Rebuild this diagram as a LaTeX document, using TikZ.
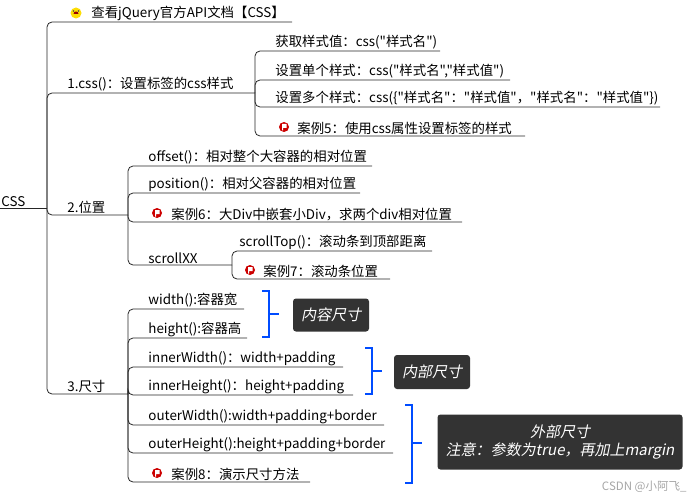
\documentclass[tikz,border=0pt]{standalone}
\usepackage{fontspec}
\setmainfont{Noto Sans CJK SC}[Ligatures=TeXOff]
\newfontfamily\cjkit[FakeSlant=0.2]{Noto Sans CJK SC}
\begin{document}
\begin{tikzpicture}[x=1pt,y=-1pt,
  lab/.style={anchor=south west,inner sep=1.2pt,font=\fontsize{13.4}{15}\selectfont},
  ln/.style={draw=black!85,line width=0.8pt,rounded corners=5pt},
  br/.style={draw=blue!70!cyan,line width=1.6pt},
  dbox/.style={fill=black!80,rounded corners=3pt,text=white,font=\cjkit\fontsize{15}{18}\selectfont,align=center,inner sep=4pt},
  flag/.pic={\fill[red!80!black] (0,0) circle (5);\fill[white] (-1.8,-3)--(2.5,-3)--(2.5,1)--(-0.8,1)--(-0.8,3.5)--(-1.8,3.5)--cycle;}]
\useasboundingbox (0,0) rectangle (693,500);
% root
\node[lab] (root) at (0,208) {CSS};
\draw[ln] (0,208) -- (47,208);
% level 1
\node[lab] (top) at (90,22) {查看jQuery官方API文档【CSS】};
\fill[yellow!80!orange] (76,13) circle (5.5);
\fill[black!70] (73.5,11) circle (0.9) (78.5,11) circle (0.9);
\fill[red!60!black] (73.5,14) arc (180:360:2.5) -- cycle;
\node[lab] (c1) at (66,93) {1.css()：设置标签的css样式};
\node[lab] (c2) at (66,215) {2.位置};
\node[lab] (c3) at (66,394) {3.尺寸};
\draw[ln] (47,208) |- (292,22);
\draw[ln] (47,208) |- (255,93);
\draw[ln] (47,208) |- (128,215);
\draw[ln] (47,208) |- (128,394);
% 1.css
\foreach \y/\e in {51/440,80/510,107/660,136/525} \draw[ln] (255,93) |- (\e,\y);
\node[lab] (a1) at (274,51) {获取样式值：css("样式名")};
\node[lab] (a2) at (274,80) {设置单个样式：css("样式名","样式值")};
\node[lab] (a3) at (274,107) {设置多个样式：css(\{"样式名"："样式值"，"样式名"："样式值"\})};
\node[lab] (a4) at (296,136) {案例5：使用css属性设置标签的样式};
\pic at (284,127) {flag};
% 2.位置
\foreach \y/\e in {166/372,193/360,222/462,265/232} \draw[ln] (128,215) |- (\e,\y);
\node[lab] (b1) at (147,166) {offset()：相对整个大容器的相对位置};
\node[lab] (b2) at (147,193) {position()：相对父容器的相对位置};
\node[lab] (b3) at (170,222) {案例6：大Div中嵌套小Div，求两个div相对位置};
\pic at (157,213) {flag};
\node[lab] (b4) at (147,265) {scrollXX};
\foreach \y/\e in {251/432,279/390} \draw[ln] (232,265) |- (\e,\y);
\node[lab] (b5) at (238,251) {scrollTop()：滚动条到顶部距离};
\node[lab] (b6) at (262,279) {案例7：滚动条位置};
\pic at (250,270) {flag};
% 3.尺寸
\foreach \y/\e in {309/244,338/247,367/343,395/353,425/384,453/393,482/310} \draw[ln] (128,394) |- (\e,\y);
\node[lab] (d1) at (147,309) {width():容器宽};
\node[lab] (d2) at (147,338) {height():容器高};
\node[lab] (d3) at (147,367) {innerWidth()：width+padding};
\node[lab] (d4) at (147,395) {innerHeight()：height+padding};
\node[lab] (d5) at (147,425) {outerWidth():width+padding+border};
\node[lab] (d6) at (147,453) {outerHeight():height+padding+border};
\node[lab] (d7) at (170,482) {案例8：演示尺寸方法};
\pic at (157,473) {flag};
% brackets
\draw[br] (262,291) -- (269,291) -- (269,337) -- (262,337) (269,314) -- (279,314);
\draw[br] (365,348) -- (372,348) -- (372,394) -- (365,394) (372,371) -- (382,371);
\draw[br] (405,405) -- (412,405) -- (412,483) -- (405,483) (412,443) -- (422,443);
\node[dbox,minimum width=76pt,minimum height=33pt] (k1) at (331,315) {内容尺寸};
\node[dbox,minimum width=76pt,minimum height=34pt] (k2) at (432,372) {内部尺寸};
\node[dbox,minimum width=245pt,minimum height=55pt] (k3) at (560,442) {外部尺寸\\注意：参数为true，再加上margin};
\node[anchor=east,text=black!35,font=\fontsize{11.5}{13}\selectfont] (wm) at (690,487) {CSDN @小阿飞\_};
\end{tikzpicture}
\end{document}
